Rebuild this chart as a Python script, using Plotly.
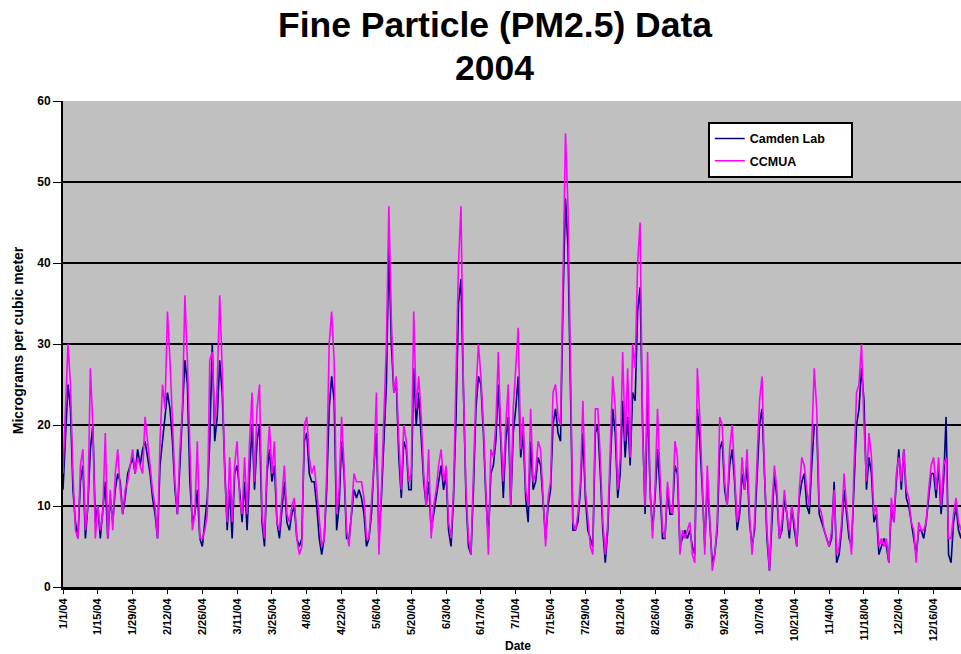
import pandas as pd
import plotly.graph_objects as go

START_DATE = "2004-01-01"

# Daily PM2.5 values (micrograms per cubic meter), 1/1/04 .. 12/31/04
CCMUA = [
    14, 22, 30, 25, 14, 7, 6, 15, 17, 7,
    10, 27, 20, 6, 10, 7, 9, 19, 6, 12,
    7, 14, 17, 12, 9, 12, 13, 15, 17, 14,
    16, 15, 14, 21, 18, 15, 12, 10, 6, 18,
    25, 22, 34, 28, 20, 13, 9, 17, 22, 36,
    28, 16, 7, 9, 18, 6, 6, 7, 9, 28,
    29, 20, 25, 36, 27, 14, 8, 16, 8, 15,
    18, 11, 9, 16, 9, 18, 24, 13, 22, 25,
    9, 6, 15, 20, 14, 18, 8, 7, 11, 15,
    9, 8, 10, 11, 6, 4, 5, 20, 21, 16,
    14, 15, 12, 8, 5, 6, 14, 30, 34, 28,
    9, 12, 21, 15, 7, 5, 10, 14, 13, 13,
    13, 11, 6, 6, 10, 15, 24, 4, 12, 20,
    30, 47, 33, 24, 26, 18, 12, 20, 18, 13,
    14, 34, 22, 26, 21, 14, 10, 17, 6, 10,
    12, 15, 17, 13, 15, 8, 6, 12, 25, 40,
    47, 24, 12, 6, 4, 14, 24, 30, 26, 20,
    12, 4, 17, 16, 20, 29, 19, 13, 20, 25,
    10, 22, 27, 32, 17, 21, 12, 10, 22, 13,
    14, 18, 17, 11, 5, 11, 13, 24, 25, 21,
    20, 38, 56, 47, 24, 8, 7, 9, 13, 23,
    12, 8, 5, 4, 22, 22, 16, 8, 4, 8,
    17, 26, 22, 12, 16, 29, 18, 27, 16, 30,
    27, 40, 45, 19, 10, 29, 12, 6, 12, 22,
    14,
    7, 6, 13, 10, 9, 18, 16, 4, 7,
    6, 7, 8, 4, 3, 27, 21, 13, 4, 15,
    9, 2, 4, 8, 21, 20, 13, 10, 17, 20,
    14, 8, 10, 16, 12, 17, 9, 4, 8, 16,
    23, 26, 14, 7, 2, 10, 15, 12, 6, 8,
    12, 9, 7, 10, 8, 5, 12, 16, 15, 12,
    10,
    18, 27, 22, 10, 9, 7, 6, 5, 7,
    12, 4, 5, 8, 14, 10, 7, 4, 15, 24,
    25, 30, 20, 13, 19, 16, 9, 10, 5, 6,
    5, 6, 3, 11, 8, 14, 16, 13, 17, 12,
    11, 8, 7, 3, 8, 7, 7, 8, 12, 15,
    16, 12, 16, 10, 15, 16, 6, 6, 9, 11,
    8, 7, 10, 12, 9, 8,
]

CAMDEN_LAB = [
    12, 18, 25, 22, 12, 8, 6, 13, 15, 6,
    10, 17, 20, 8, 10, 6, 10, 13, 6, 11,
    8, 12, 14, 13, 9, 11, 14, 15, 16, 14,
    17, 15, 17, 18, 16, 14, 11, 9, 6, 15,
    18, 21, 24, 22, 18, 12, 9, 15, 22, 28,
    25, 13, 8, 9, 12, 6, 5, 8, 11, 18,
    30, 18, 21, 28, 24, 15, 7, 12, 6, 14,
    15, 12, 8, 13, 7, 14, 20, 12, 18, 20,
    8, 5, 14, 17, 13, 15, 8, 6, 10, 13,
    8, 7, 9, 10, 6, 5, 6, 18, 19, 14,
    13, 13, 10, 6, 4, 6, 12, 22, 26, 23,
    7, 10, 18, 14, 6, 6, 9, 12, 11, 12,
    11, 9, 5, 6, 9, 15, 19, 6, 11, 18,
    25, 42, 30, 24, 25, 16, 11, 18, 17, 12,
    12, 27, 20, 24, 19, 13, 10, 13, 7, 9,
    11, 13, 15, 12, 14, 7, 5, 11, 21, 35,
    38, 24, 11, 5, 4, 12, 22, 26, 25, 19,
    11, 6, 14, 15, 18, 25, 18, 11, 18, 21,
    10, 19, 22, 26, 16, 19, 11, 8, 18, 12,
    13, 16, 15, 10, 6, 10, 12, 20, 22, 19,
    18, 35, 48, 42, 23, 7, 7, 8, 12, 19,
    11, 7, 6, 5, 19, 20, 14, 7, 3, 7,
    15, 22, 19, 11, 14, 23, 16, 21, 15, 24,
    23, 34, 37, 20, 9, 24, 12, 7, 11, 17,
    12,
    6, 6, 12, 9, 9, 15, 14, 5, 6,
    7, 6, 7, 5, 4, 22, 18, 12, 5, 13,
    8, 3, 4, 7, 17, 18, 12, 10, 15, 17,
    13, 7, 9, 14, 12, 15, 8, 5, 7, 14,
    20, 22, 14, 6, 2, 9, 14, 11, 6, 7,
    11, 9, 6, 10, 7, 5, 11, 13, 14, 10,
    9,
    15, 20, 20, 9, 8, 7, 6, 5, 6,
    13, 3, 4, 7, 12, 9, 6, 5, 12, 20,
    22, 27, 23, 12, 16, 14, 8, 9, 4, 5,
    6, 5, 3, 10, 8, 13, 17, 12, 17, 11,
    10, 8, 6, 4, 7, 7, 6, 8, 11, 14,
    14, 11, 15, 9, 13, 21, 4, 3, 8, 10,
    7, 6, 9, 11, 8, 7,
]

GRID_LEVELS = [10, 20, 30, 40, 50]

dates = pd.date_range(START_DATE, periods=len(CCMUA), freq="D")

FONT = "Liberation Sans"
PAD = "\u00a0" * 6  # widens the legend box like the reference's roomy legend

fig = go.Figure()
fig.add_trace(go.Scatter(x=dates, y=CAMDEN_LAB, mode="lines", name="Camden Lab" + PAD,
                         legendgroup="a",
                         line=dict(color="#000080", width=1.6)))
fig.add_trace(go.Scatter(x=dates, y=CCMUA, mode="lines", name="CCMUA",
                         legendgroup="b",
                         line=dict(color="#FF00FF", width=1.6)))

shapes = [dict(type="line", xref="paper", x0=0, x1=1, yref="y", y0=v, y1=v,
               line=dict(color="black", width=2), layer="below") for v in GRID_LEVELS]

fig.update_layout(
    width=961, height=654, autosize=False,
    margin=dict(l=63, r=0, t=101, b=67),
    paper_bgcolor="white", plot_bgcolor="#C0C0C0",
    font=dict(family=FONT, color="black"),
    shapes=shapes,
    showlegend=True,
    legend=dict(x=0.718, y=0.957, xanchor="left", yanchor="top",
                bgcolor="white", bordercolor="black", borderwidth=2,
                font=dict(family=FONT, size=12.5, color="black", weight="bold"),
                itemwidth=30, tracegroupgap=3),
    xaxis=dict(type="date", range=["2004-01-01", "2004-12-27"],
               tick0="2004-01-01", dtick=14 * 86400000, tickformat="%-m/%-d/%y",
               tickangle=-90, ticks="outside", ticklen=4, tickcolor="black",
               showline=True, linecolor="black", linewidth=3, showgrid=False,
               tickfont=dict(family=FONT, size=11, color="black", weight="bold")),
    yaxis=dict(range=[0, 60], dtick=10, ticks="outside", ticklen=8, tickcolor="black",
               showline=True, linecolor="black", linewidth=2, showgrid=False,
               zeroline=False,
               tickfont=dict(family=FONT, size=12, color="black", weight="bold")),
    annotations=[
        dict(text="<b>Fine Particle (PM2.5) Data</b>", xref="paper", yref="paper",
             x=0.481, y=1.156, xanchor="center", yanchor="middle", showarrow=False,
             font=dict(family=FONT, size=35.5, color="black")),
        dict(text="<b>2004</b>", xref="paper", yref="paper",
             x=0.481, y=1.068, xanchor="center", yanchor="middle", showarrow=False,
             font=dict(family=FONT, size=35.5, color="black")),
        dict(text="<b>Micrograms per cubic meter</b>", xref="paper", yref="paper",
             x=-0.050, y=0.508, xanchor="center", yanchor="middle", showarrow=False,
             textangle=-90, font=dict(family=FONT, size=14, color="black")),
        dict(text="<b>Date</b>", xref="paper", yref="paper",
             x=0.507, y=-0.121, xanchor="center", yanchor="middle", showarrow=False,
             font=dict(family=FONT, size=12, color="black")),
    ],
)

# Remove the browser's default 8px body margin so the figure starts at the page corner.
fig.write_html("out.html",
               config={"displayModeBar": False},
               post_script="document.body.style.margin='0';document.body.style.overflow='hidden';")
